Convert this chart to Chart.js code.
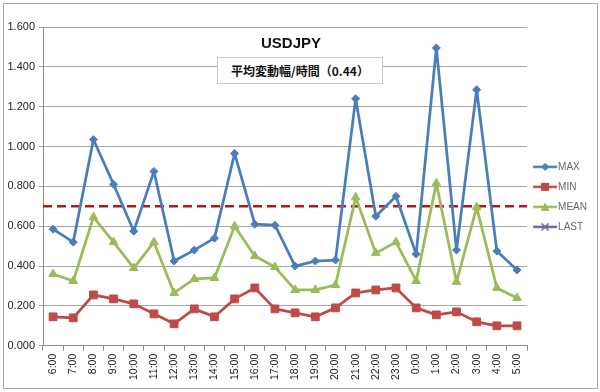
<!DOCTYPE html>
<html>
<head>
<meta charset="utf-8">
<script src="https://cdn.jsdelivr.net/npm/chart.js@4"></script>
<style>
  html, body { margin: 0; padding: 0; background: #fff; }
  #wrap { position: relative; width: 600px; height: 392px; }
  #frame { position: absolute; left: 3px; top: 3px; width: 593px; height: 384px; border: 1px solid #a8a8a8; pointer-events: none; }
  #title { position: absolute; left: 241px; width: 100px; top: 34px; text-align: center;
           font: bold 15px "Liberation Sans", Arial, sans-serif; color: #111; }
  #sub { position: absolute; left: 217px; top: 57px; width: 164px; height: 25px; border: 1px solid #c8c8c8;
         background: #fff; font: bold 12px "Noto Sans CJK JP", sans-serif; line-height: 25px; text-align: center; color: #111; }
</style>
</head>
<body>
<div id="wrap">
  <canvas id="usdjpy" width="600" height="392"></canvas>
  <div id="title">USDJPY</div>
  <div id="sub">平均変動幅/時間（0.44）</div>
  <div id="frame"></div>
</div>
<script>
// hours of the day (JST)
const hours = ['6:00','7:00','8:00','9:00','10:00','11:00','12:00','13:00','14:00','15:00','16:00','17:00',
               '18:00','19:00','20:00','21:00','22:00','23:00','0:00','1:00','2:00','3:00','4:00','5:00'];

const maxVals  = [0.585,0.52,1.035,0.81,0.575,0.875,0.425,0.48,0.54,0.965,0.61,0.605,
                  0.40,0.425,0.43,1.24,0.65,0.75,0.46,1.495,0.48,1.285,0.475,0.38];
const minVals  = [0.145,0.14,0.255,0.235,0.21,0.16,0.11,0.185,0.145,0.235,0.29,0.185,
                  0.165,0.145,0.19,0.265,0.28,0.29,0.19,0.155,0.17,0.12,0.10,0.10];
const meanVals = [0.36,0.325,0.645,0.52,0.39,0.52,0.265,0.335,0.34,0.60,0.45,0.395,
                  0.28,0.28,0.305,0.745,0.465,0.52,0.325,0.815,0.32,0.695,0.29,0.24];
const lastVals = []; // LAST only shows up in the legend

const refLevel = 0.70; // red dashed line
const yMin = 0, yMax = 1.6, yStep = 0.2;

const seriesNames  = ['MAX', 'MIN', 'MEAN', 'LAST'];
const seriesColors = ['#4a7ebb', '#be4b48', '#9bbb59', '#6f63a3'];
const seriesMarks  = ['rectRot', 'rect', 'triangle', 'crossRot'];

// little line+marker picture for legend entries
function legendIcon(color, mark) {
  const c = document.createElement('canvas');
  c.width = 26; c.height = 12;
  const g = c.getContext('2d');
  g.strokeStyle = color; g.fillStyle = color; g.lineWidth = 2.5;
  g.beginPath(); g.moveTo(1, 6); g.lineTo(25, 6); g.stroke();
  g.beginPath();
  if (mark === 'rectRot') { g.moveTo(13, 2); g.lineTo(17, 6); g.lineTo(13, 10); g.lineTo(9, 6); g.closePath(); g.fill(); }
  else if (mark === 'rect') { g.fillRect(9, 2, 8, 8); }
  else if (mark === 'triangle') { g.moveTo(13, 1.5); g.lineTo(17.5, 10); g.lineTo(8.5, 10); g.closePath(); g.fill(); }
  else { g.lineWidth = 1.5; g.moveTo(9.5, 2.5); g.lineTo(16.5, 9.5); g.moveTo(16.5, 2.5); g.lineTo(9.5, 9.5); g.stroke(); }
  return c;
}

const refLinePlugin = {
  id: 'refLine',
  beforeDatasetsDraw(chart) {
    const {ctx, chartArea, scales: {y}} = chart;
    const py = y.getPixelForValue(refLevel);
    ctx.save();
    ctx.strokeStyle = '#b8141a';
    ctx.lineWidth = 2.5;
    ctx.setLineDash([9, 5]);
    ctx.beginPath();
    ctx.moveTo(chartArea.left, py);
    ctx.lineTo(chartArea.right, py);
    ctx.stroke();
    ctx.restore();
  }
};

const values = [maxVals, minVals, meanVals, lastVals];
const radii = [4, 5.5, 5, 4];

const datasets = seriesNames.map((name, i) => ({
  label: name,
  data: values[i],
  borderColor: seriesColors[i],
  backgroundColor: seriesColors[i],
  pointBackgroundColor: seriesColors[i],
  pointBorderColor: seriesColors[i],
  borderWidth: 2.75,
  borderJoinStyle: 'round',
  pointStyle: seriesMarks[i],
  pointRadius: radii[i],
  pointBorderWidth: 1,
  tension: 0
}));

const tickFont = { family: '"Liberation Sans", Arial, sans-serif', size: 11 };

new Chart(document.getElementById('usdjpy'), {
  type: 'line',
  data: { labels: hours, datasets: datasets },
  options: {
    responsive: false,
    animation: false,
    devicePixelRatio: 1,
    layout: { padding: { top: 27, bottom: 9, left: 0, right: 3 } },
    scales: {
      x: {
        offset: true,
        grid: { offset: true, drawOnChartArea: false, drawTicks: true, tickLength: 5, color: '#8c8c8c' },
        border: { color: '#8c8c8c' },
        ticks: { minRotation: 90, maxRotation: 90, autoSkip: false, padding: 3, color: '#222',
                 font: { family: '"Liberation Sans", Arial, sans-serif', size: 10.5 } }
      },
      y: {
        min: yMin, max: yMax,
        grid: { color: '#a6a6a6', tickLength: 4 },
        border: { color: '#8c8c8c' },
        ticks: { stepSize: yStep, padding: 4, color: '#222', font: tickFont,
                 callback: v => Number(v).toFixed(3) },
        afterFit(scale) { scale.width = 43; }
      }
    },
    plugins: {
      title: { display: false },
      tooltip: { enabled: false },
      legend: {
        position: 'right',
        align: 'center',
        fullSize: false,
        title: { display: true, text: '', font: { size: 10 }, padding: { top: 0, bottom: 9 } },
        labels: {
          usePointStyle: true,
          pointStyleWidth: 16,
          padding: 10,
          color: '#222',
          font: { family: '"Liberation Sans", Arial, sans-serif', size: 10 },
          generateLabels: chart => chart.data.datasets.map((ds, i) => ({
            text: ds.label,
            pointStyle: legendIcon(seriesColors[i], seriesMarks[i]),
            fillStyle: seriesColors[i],
            strokeStyle: seriesColors[i],
            lineWidth: 0,
            hidden: false,
            datasetIndex: i
          }))
        }
      }
    }
  },
  plugins: [refLinePlugin]
});
</script>
</body>
</html>
